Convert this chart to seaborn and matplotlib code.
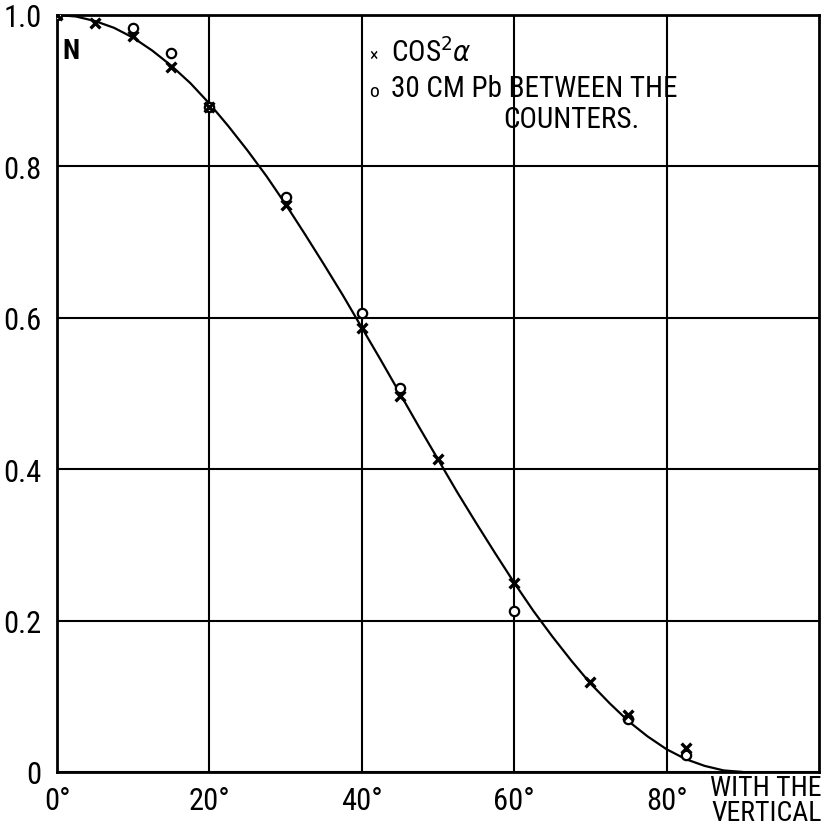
import matplotlib
matplotlib.use('Agg')
import matplotlib.pyplot as plt
from matplotlib import font_manager
import pandas as pd
import seaborn as sns

# values
cross_angle = [0, 5, 10, 15, 20, 30, 40, 45, 50, 60, 70, 75, 82.5]
cross_value = [1.0, 0.99, 0.972, 0.931, 0.878, 0.749, 0.586, 0.497, 0.414, 0.249, 0.119, 0.075, 0.032]

circle_angle = [0, 10, 15, 20, 30, 40, 45, 60, 75, 82.5]
circle_value = [1.0, 0.983, 0.95, 0.878, 0.759, 0.606, 0.507, 0.213, 0.070, 0.022]

curve_angle = [0, 2.5, 5, 7.5, 10, 12.5, 15, 17.5, 20, 22.5, 25, 27.5, 30, 32.5, 35, 37.5,
               40, 42.5, 45, 47.5, 50, 52.5, 55, 57.5, 60, 62.5, 65, 67.5, 70, 72.5, 75,
               77.5, 80, 82.5, 85, 87.5, 90]
curve_value = [1.0, 0.998, 0.992, 0.983, 0.97, 0.953, 0.933, 0.91, 0.883, 0.853, 0.821,
               0.787, 0.75, 0.711, 0.671, 0.63, 0.587, 0.544, 0.5, 0.456, 0.413, 0.37,
               0.329, 0.289, 0.25, 0.213, 0.179, 0.147, 0.117, 0.091, 0.067, 0.047,
               0.030, 0.017, 0.008, 0.002, 0.0]

x_ticks = [0, 20, 40, 60, 80]
x_ticklabels = ['0°', '20°', '40°', '60°', '80°']
y_ticks = [0, 0.2, 0.4, 0.6, 0.8, 1.0]
y_ticklabels = ['0', '0.2', '0.4', '0.6', '0.8', '1.0']

sns.set_style('white')
installed = {f.name for f in font_manager.fontManager.ttflist}
narrow = [n for n in ['Liberation Sans Narrow', 'Roboto Condensed', 'Open Sans Condensed'] if n in installed]
plt.rcParams['font.family'] = narrow + ['DejaVu Sans']
plt.rcParams['font.stretch'] = 'condensed'
plt.rcParams['text.color'] = 'black'
plt.rcParams['xtick.color'] = 'black'
plt.rcParams['ytick.color'] = 'black'

curve = pd.DataFrame({'angle': curve_angle, 'value': curve_value})
crosses = pd.DataFrame({'angle': cross_angle, 'value': cross_value})
circles = pd.DataFrame({'angle': circle_angle, 'value': circle_value})

fig = plt.figure(figsize=(8.25, 8.29), dpi=100)
ax = fig.add_axes([0.0691, 0.0676, 0.9236, 0.9131])

sns.lineplot(data=curve, x='angle', y='value', color='black', linewidth=1.6, ax=ax, zorder=3)
sns.scatterplot(data=circles, x='angle', y='value', marker='o', s=45, facecolor='white',
                edgecolor='black', linewidth=1.6, ax=ax, zorder=4)
sns.scatterplot(data=crosses, x='angle', y='value', marker='x', s=50, color='black',
                linewidth=2.4, ax=ax, zorder=5)

ax.set_xlim(0, 100)
ax.set_ylim(0, 1.0)
ax.set_xticks(x_ticks)
ax.set_xticklabels(x_ticklabels)
ax.set_yticks(y_ticks)
ax.set_yticklabels(y_ticklabels)
ax.tick_params(length=0, labelsize=22)
ax.tick_params(axis='y', pad=11)
ax.tick_params(axis='x', pad=10)
ax.set_xlabel('')
ax.set_ylabel('')
ax.grid(True, color='black', linewidth=1.5)
for sp in ax.spines.values():
    sp.set_color('black')
    sp.set_linewidth(2)

ax.text(0.7, 0.953, 'N', fontsize=20, fontweight='bold', va='center', ha='left')
ax.text(41.0, 0.947, '×', fontsize=13, va='center', ha='left')
ax.text(43.8, 0.951, 'COS$^2\\alpha$', fontsize=21, va='center', ha='left')
ax.text(41.0, 0.899, 'o', fontsize=14, va='center', ha='left')
ax.text(43.8, 0.903, '30 CM Pb BETWEEN THE', fontsize=21, va='center', ha='left')
ax.text(58.6, 0.862, 'COUNTERS.', fontsize=21, va='center', ha='left')
fig.text(0.996, 0.002, 'WITH THE\nVERTICAL', fontsize=20, ha='right', va='bottom',
         linespacing=0.9)

fig.savefig('out.png', dpi=100, facecolor='white')
